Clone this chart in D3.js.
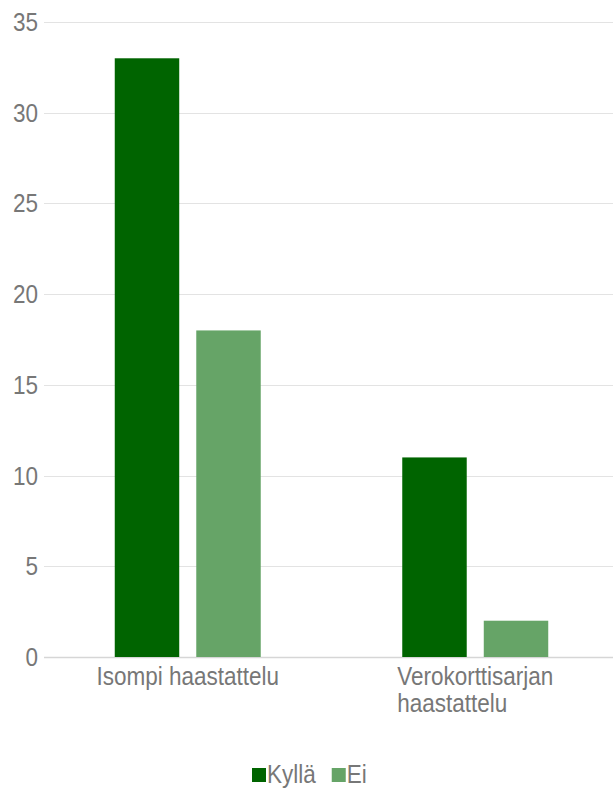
<!DOCTYPE html>
<html>
<head>
<meta charset="utf-8">
<script src="https://cdn.jsdelivr.net/npm/d3@7"></script>
<style>
  html, body { margin: 0; padding: 0; background: #ffffff; }
  svg { display: block; }
  text { font-family: "Liberation Sans", Arial, sans-serif; fill: #777777; }
</style>
</head>
<body>
<svg id="chart" width="613" height="790"></svg>
<script>
// Survey answers per interview type
const categories = ["Isompi haastattelu", "Verokorttisarjan haastattelu"];
const seriesNames = ["Kyllä", "Ei"];
const kyllaValues = [33, 11];
const eiValues = [18, 2];
const yTicks = [0, 5, 10, 15, 20, 25, 30, 35];
const seriesColors = ["#006400", "#66a467"];

const rows = categories.map((c, i) => ({ category: c, values: [kyllaValues[i], eiValues[i]] }));

const W = 613, H = 790;
const plot = { left: 44, right: 619, top: 22, bottom: 657 };
const squeeze = 0.9;   // horizontal text compression

const svg = d3.select("#chart");

const y = d3.scaleLinear().domain([0, 35]).range([plot.bottom, plot.top]);
const x0 = d3.scaleBand().domain(categories).range([plot.left, plot.right]).paddingInner(0).paddingOuter(0);
const x1 = d3.scaleBand().domain(seriesNames).range([0, x0.bandwidth()]).paddingInner(0.209).paddingOuter(0.868);

// gridlines
svg.append("g").selectAll("line")
  .data(yTicks)
  .join("line")
  .attr("x1", plot.left).attr("x2", W)
  .attr("y1", d => Math.round(y(d)) + 0.5).attr("y2", d => Math.round(y(d)) + 0.5)
  .attr("stroke", d => d === 0 ? "#d6d6d6" : "#e3e3e3")
  .attr("stroke-width", d => d === 0 ? 1.5 : 1);

// y tick labels
svg.append("g").selectAll("g")
  .data(yTicks)
  .join("g")
  .attr("transform", d => `translate(38,${y(d) + 9}) scale(${squeeze},1)`)
  .append("text")
  .attr("text-anchor", "end")
  .attr("font-size", 25)
  .text(d => d);

// bars
const groups = svg.append("g").selectAll("g")
  .data(rows)
  .join("g")
  .attr("transform", d => `translate(${x0(d.category)},0)`);

groups.selectAll("rect")
  .data(d => d.values.map((v, i) => ({ key: seriesNames[i], value: v, i })))
  .join("rect")
  .attr("x", d => x1(d.key))
  .attr("width", x1.bandwidth())
  .attr("y", d => y(d.value))
  .attr("height", d => y(0) - y(d.value))
  .attr("fill", d => seriesColors[d.i]);

// category labels (wrapped onto lines, left aligned within a centred block)
const labelLines = [["Isompi haastattelu"], ["Verokorttisarjan", "haastattelu"]];
categories.forEach((c, i) => {
  const cx = x0(c) + x0.bandwidth() / 2;
  const g = svg.append("g");
  const texts = labelLines[i].map((line, j) =>
    g.append("g")
      .attr("transform", `translate(0,${plot.bottom + 28 + j * 27}) scale(${squeeze},1)`)
      .append("text")
      .attr("font-size", 25)
      .text(line));
  const widest = d3.max(texts, t => t.node().getComputedTextLength()) * squeeze;
  g.attr("transform", `translate(${cx - widest / 2},0)`);
});

// legend
const legend = svg.append("g").attr("transform", "translate(252,768)");
let lx = 0;
seriesNames.forEach((name, i) => {
  legend.append("rect").attr("x", lx).attr("y", 0).attr("width", 14).attr("height", 14).attr("fill", seriesColors[i]);
  const t = legend.append("g")
    .attr("transform", `translate(${lx + 15},15) scale(${squeeze},1)`)
    .append("text")
    .attr("font-size", 25)
    .text(name);
  lx += 15 + t.node().getComputedTextLength() * squeeze + 16;
});
</script>
</body>
</html>
